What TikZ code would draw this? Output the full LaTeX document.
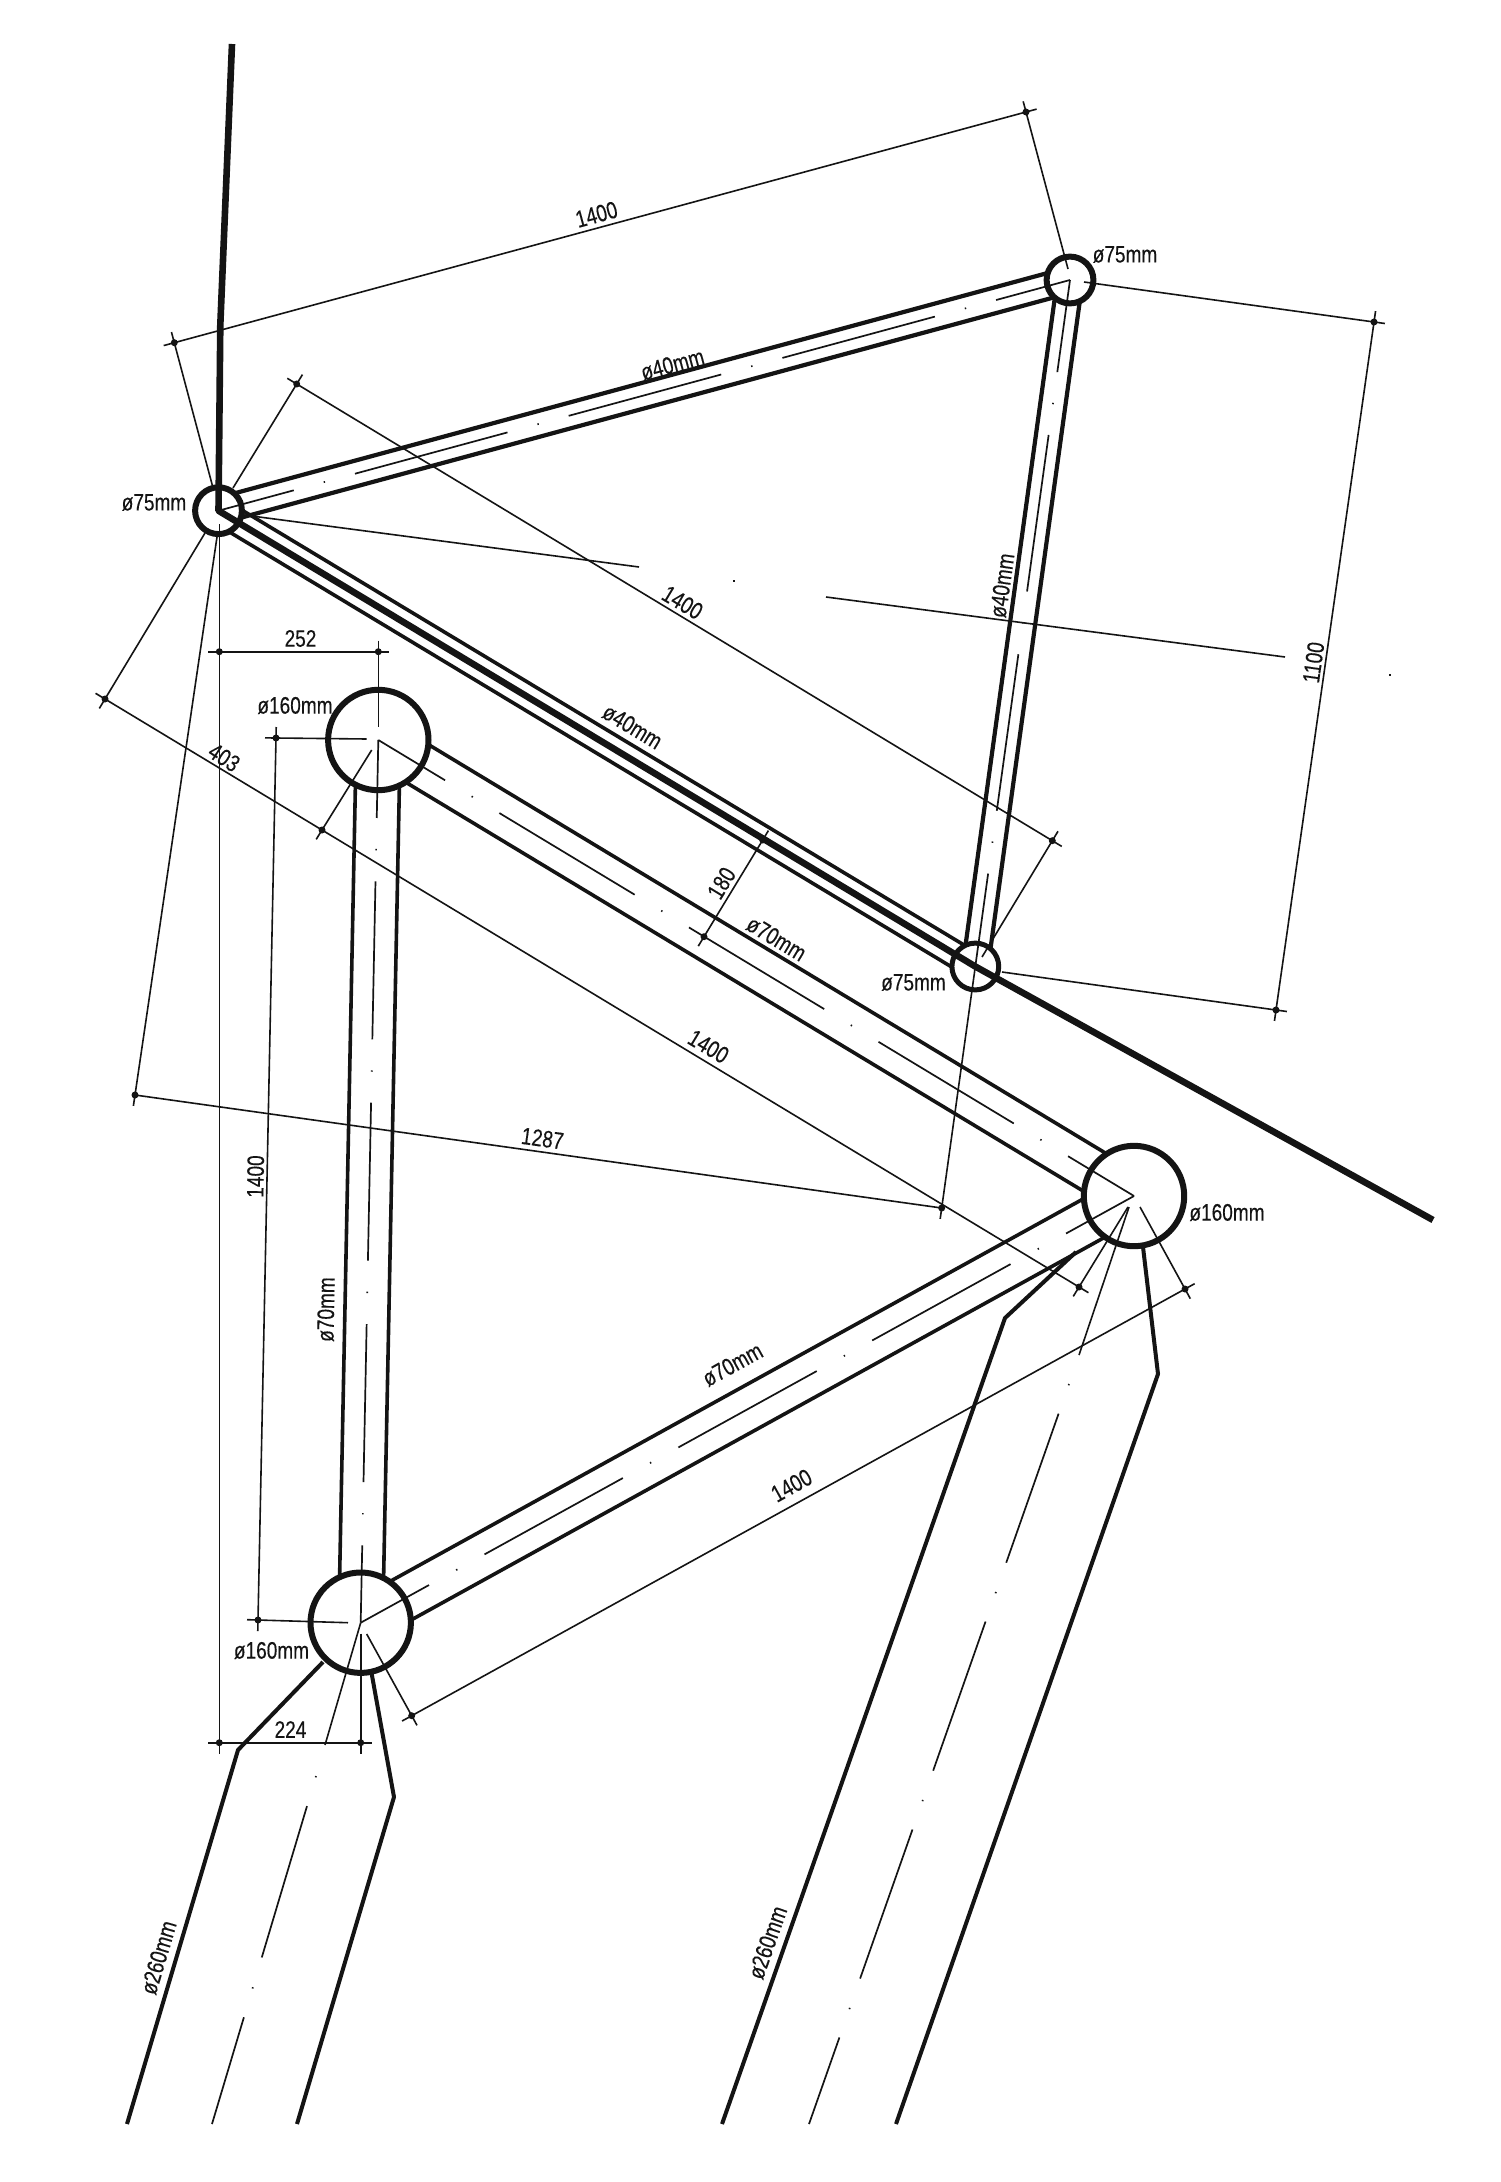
\documentclass[tikz,border=0pt]{standalone}
\usepackage{fontspec}
\setmainfont[FakeStretch=0.8,FakeBold=0.2]{Liberation Sans}
\usetikzlibrary{calc}
\definecolor{ink}{gray}{0.08}
\tikzset{
  dimline/.style={draw=ink,line width=.8pt},
  tubeforty/.style={draw=ink,line width=2.1pt},
  tubeseventy/.style={draw=ink,line width=1.8pt},
  legedge/.style={draw=ink,line width=2pt,line join=round},
  heavy/.style={draw=ink,line width=3.3pt,line join=round},
  centreline/.style={draw=ink,line width=.85pt,dash pattern=on 79pt off 15.5pt on .7pt off 15.5pt,dash phase=40pt},
  shortcentre/.style={centreline,dash phase=32.5pt},
  legcentre/.style={draw=ink,line width=.85pt,dash pattern=on .7pt off 15pt on 79pt off 15.5pt},
  jointsmall/.style={circle,draw=ink,fill=white,line width=3pt,inner sep=0pt,minimum size=23.4pt},
  jointbig/.style={circle,draw=ink,fill=white,line width=3pt,inner sep=0pt,minimum size=50.2pt},
  mk/.style={circle,fill=ink,inner sep=0pt,minimum size=3.5pt},
  lbl/.style={text=ink,inner sep=0pt,font=\fontsize{11.9pt}{13pt}\selectfont},
  tick both/.style={shorten <=-5.5pt,shorten >=-5.5pt},
  tick end/.style={shorten >=-5.5pt},
  tick start/.style={shorten <=-5.5pt},
}
\begin{document}
\begin{tikzpicture}[x=.5pt,y=-.5pt]
\useasboundingbox (0,0) rectangle (1500,2182);
\fill[white] (0,0) rectangle (1500,2182);
% joint centres
\coordinate (cA) at (218.5,510.7);
\coordinate (cB) at (1070,280);
\coordinate (cC) at (975.3,966.5);
\coordinate (cD) at (1134,1196);
\coordinate (cE) at (378.3,740);
\coordinate (cF) at (360.7,1622.7);
% tube edges
\foreach \p/\q in {cA/cB,cB/cC}{
  \draw[tubeforty] ($(\p)!6.3pt!90:(\q)$) -- ($(\q)!6.3pt!-90:(\p)$);
  \draw[tubeforty] ($(\p)!6.3pt!-90:(\q)$) -- ($(\q)!6.3pt!90:(\p)$);
}
\foreach \p/\q in {cA/cC}{
  \draw[tubeseventy] ($(\p)!6.3pt!90:(\q)$) -- ($(\q)!6.3pt!-90:(\p)$);
  \draw[tubeseventy] ($(\p)!6.3pt!-90:(\q)$) -- ($(\q)!6.3pt!90:(\p)$);
}
\foreach \p/\q in {cE/cD,cE/cF,cF/cD}{
  \draw[tubeseventy] ($(\p)!11pt!90:(\q)$) -- ($(\q)!11pt!-90:(\p)$);
  \draw[tubeseventy] ($(\p)!11pt!-90:(\q)$) -- ($(\q)!11pt!90:(\p)$);
}
% large legs
\coordinate (la1) at (1076,1252); \coordinate (la2) at (1005,1318); \coordinate (la3) at (722,2124);
\coordinate (lb1) at (1143,1247); \coordinate (lb2) at (1158,1374); \coordinate (lb3) at (896,2124);
\coordinate (lc1) at (323,1662);  \coordinate (lc2) at (238,1750);  \coordinate (lc3) at (127,2124);
\coordinate (ld1) at (371,1670);  \coordinate (ld2) at (394,1797);  \coordinate (ld3) at (297,2124);
\draw[legedge] (la1) -- (la2) -- (la3);
\draw[legedge] (lb1) -- (lb2) -- (lb3);
\draw[legedge] (lc1) -- (lc2) -- (lc3);
\draw[legedge] (ld1) -- (ld2) -- (ld3);
% joints
\node[jointsmall] (A) at (cA) {};
\node[jointsmall] (B) at (cB) {};
\node[jointsmall,line width=2.5pt] (C) at (cC) {};
\node[jointbig] (D) at (cD) {};
\node[jointbig] (E) at (cE) {};
\node[jointbig] (F) at (cF) {};
% heavy line
\coordinate (mast) at (232,44); \coordinate (mastb) at (220.3,325);
\coordinate (tail) at (1433,1220);
\draw[heavy] (mast) -- (mastb) -- (A.center) -- (C.center) -- (tail);
% centre lines
\draw[centreline] (A.center) -- (B.center);
\draw[shortcentre] (B.center) -- (C.center);
\draw[centreline] (E.center) -- (D.center);
\draw[centreline] (E.center) -- (F.center);
\draw[centreline] (F.center) -- (D.center);
% leg centre lines
\coordinate (da) at (1129,1207); \coordinate (db) at (1079,1355);
\coordinate (dc) at (1069,1384); \coordinate (dd) at (809,2124);
\draw[dimline] (da) -- (db);
\draw[legcentre] (dc) -- (dd);
\coordinate (fb) at (325,1745);
\coordinate (fc) at (316,1776); \coordinate (fd) at (212,2124);
\draw[dimline] (F.center) -- (fb);
\draw[legcentre] (fc) -- (fd);
% long bisector line
\coordinate (bi1) at (244,515); \coordinate (bi2) at (639,567);
\coordinate (bi3) at (733,581); \coordinate (bi4) at (734.5,581);
\coordinate (bi5) at (826,597); \coordinate (bi6) at (1285,657);
\coordinate (bi7) at (1389,675); \coordinate (bi8) at (1390.5,675);
\draw[dimline] (bi1) -- (bi2);
\draw[dimline] (bi3) -- (bi4);
\draw[dimline] (bi5) -- (bi6);
\draw[dimline] (bi7) -- (bi8);
% dimension markers
\node[mk] (m1) at (105,699) {};
\node[mk] (m2) at (322,830) {};
\node[mk] (m3) at (1079,1287) {};
\node[mk] (m4) at (1185,1289) {};
\node[mk] (m5) at (411.7,1715.7) {};
\node[mk] (m6) at (135,1095) {};
\node[mk] (m7) at (941.7,1208) {};
\node[mk] (m8) at (296.7,384) {};
\node[mk] (m9) at (1052.3,840.7) {};
\node[mk] (m10) at (174.3,342.7) {};
\node[mk] (m11) at (1026,112) {};
\node[mk] (m12) at (1374,322) {};
\node[mk] (m13) at (1276,1010) {};
\node[mk] (m14) at (219.3,651.7) {};
\node[mk] (m15) at (378.3,651.7) {};
\node[mk] (m16) at (219.3,1742.7) {};
\node[mk] (m17) at (360.7,1742.7) {};
\node[mk] (m18) at (276,738) {};
\node[mk] (m19) at (258,1620) {};
\node[mk] (m20) at (762.7,840) {};
\node[mk] (m21) at (704,936.7) {};
% free ends of extension lines
\coordinate (x1) at (205,533);
\coordinate (x2) at (371.7,750);
\coordinate (x3) at (1128,1207);
\coordinate (x4) at (1140,1207);
\coordinate (x5) at (366.7,1634);
\coordinate (x6) at (217,537);
\coordinate (x7) at (233,488);
\coordinate (x8) at (982,957);
\coordinate (x9) at (212.7,486.7);
\coordinate (x10) at (1068,269);
\coordinate (x11) at (1084,282);
\coordinate (x12) at (1002,972);
\coordinate (x13) at (219.3,524);
\coordinate (x14) at (378.3,727);
\coordinate (x15) at (366.7,739);
\coordinate (x16) at (348,1622.7);
% extension lines
\draw[dimline,tick end] (x1) -- (m1.center);
\draw[dimline,tick end] (x2) -- (m2.center);
\draw[dimline,tick end] (x3) -- (m3.center);
\draw[dimline,tick end] (x4) -- (m4.center);
\draw[dimline,tick end] (x5) -- (m5.center);
\draw[dimline,tick end] (x6) -- (m6.center);
\draw[dimline,tick end] (C.center) -- (m7.center);
\draw[dimline,tick end] (x7) -- (m8.center);
\draw[dimline,tick end] (x8) -- (m9.center);
\draw[dimline,tick end] (x9) -- (m10.center);
\draw[dimline,tick end] (x10) -- (m11.center);
\draw[dimline,tick end] (x11) -- (m12.center);
\draw[dimline,tick end] (x12) -- (m13.center);
\draw[dimline,tick end] (x13) -- (m16.center);
\draw[dimline,tick start] (m15.center) -- (x14);
\draw[dimline,tick end] (x15) -- (m18.center);
\draw[dimline,tick end] (x16) -- (m19.center);
\draw[dimline,tick end] ($(F.center)+(0,11)$) -- (m17.center);
% dimension lines
\draw[dimline,tick start] (m1.center) -- (m2.center);
\draw[dimline,tick end] (m2.center) -- (m3.center);
\draw[dimline,tick both] (m5.center) -- (m4.center);
\draw[dimline] (m6.center) -- (m7.center);
\draw[dimline,tick both] (m8.center) -- (m9.center);
\draw[dimline,tick both] (m10.center) -- (m11.center);
\draw[dimline,tick both] (m12.center) -- (m13.center);
\draw[dimline,tick both] (m14.center) -- (m15.center);
\draw[dimline,tick both] (m16.center) -- (m17.center);
\draw[dimline,tick both] (m18.center) -- (m19.center);
\draw[dimline,tick both] (m20.center) -- (m21.center);
% labels
\begin{scope}[shift={(2.5,2.5)}]
\node[lbl,rotate=15.2] (t1) at (594,212) {1400};
\node[lbl,rotate=-31] (t2) at (680,600) {1400};
\node[lbl,rotate=-31] (t3) at (706,1044) {1400};
\node[lbl,rotate=29] (t4) at (789,1483) {1400};
\node[lbl,rotate=89] (t5) at (253,1174) {1400};
\node[lbl,rotate=82] (t6) at (1311,660) {1100};
\node[lbl,rotate=-8] (t7) at (540,1136) {1287};
\node[lbl,rotate=-33] (t8) at (221.7,755) {403};
\node[lbl] (t9) at (298,636) {252};
\node[lbl] (t10) at (288,1727) {224};
\node[lbl,rotate=58.7] (t11) at (719,880.7) {180};
\node[lbl,rotate=15.2] (t12) at (670,362) {ø40mm};
\node[lbl,rotate=82] (t13) at (999.5,583) {ø40mm};
\node[lbl,rotate=-31] (t14) at (630,724) {ø40mm};
\node[lbl,rotate=-31] (t15) at (774,936) {ø70mm};
\node[lbl,rotate=29] (t16) at (730,1362) {ø70mm};
\node[lbl,rotate=89] (t17) at (323.5,1307) {ø70mm};
\node[lbl] (t18) at (151.5,500) {ø75mm};
\node[lbl] (t19) at (1122.5,252) {ø75mm};
\node[lbl] (t20) at (911,980) {ø75mm};
\node[lbl] (t21) at (292.5,703) {ø160mm};
\node[lbl] (t22) at (1224.5,1210) {ø160mm};
\node[lbl] (t23) at (269,1648) {ø160mm};
\node[lbl,rotate=73.5] (t24) at (156,1955) {ø260mm};
\node[lbl,rotate=70.6] (t25) at (765,1940) {ø260mm};
\end{scope}
\end{tikzpicture}
\end{document}
